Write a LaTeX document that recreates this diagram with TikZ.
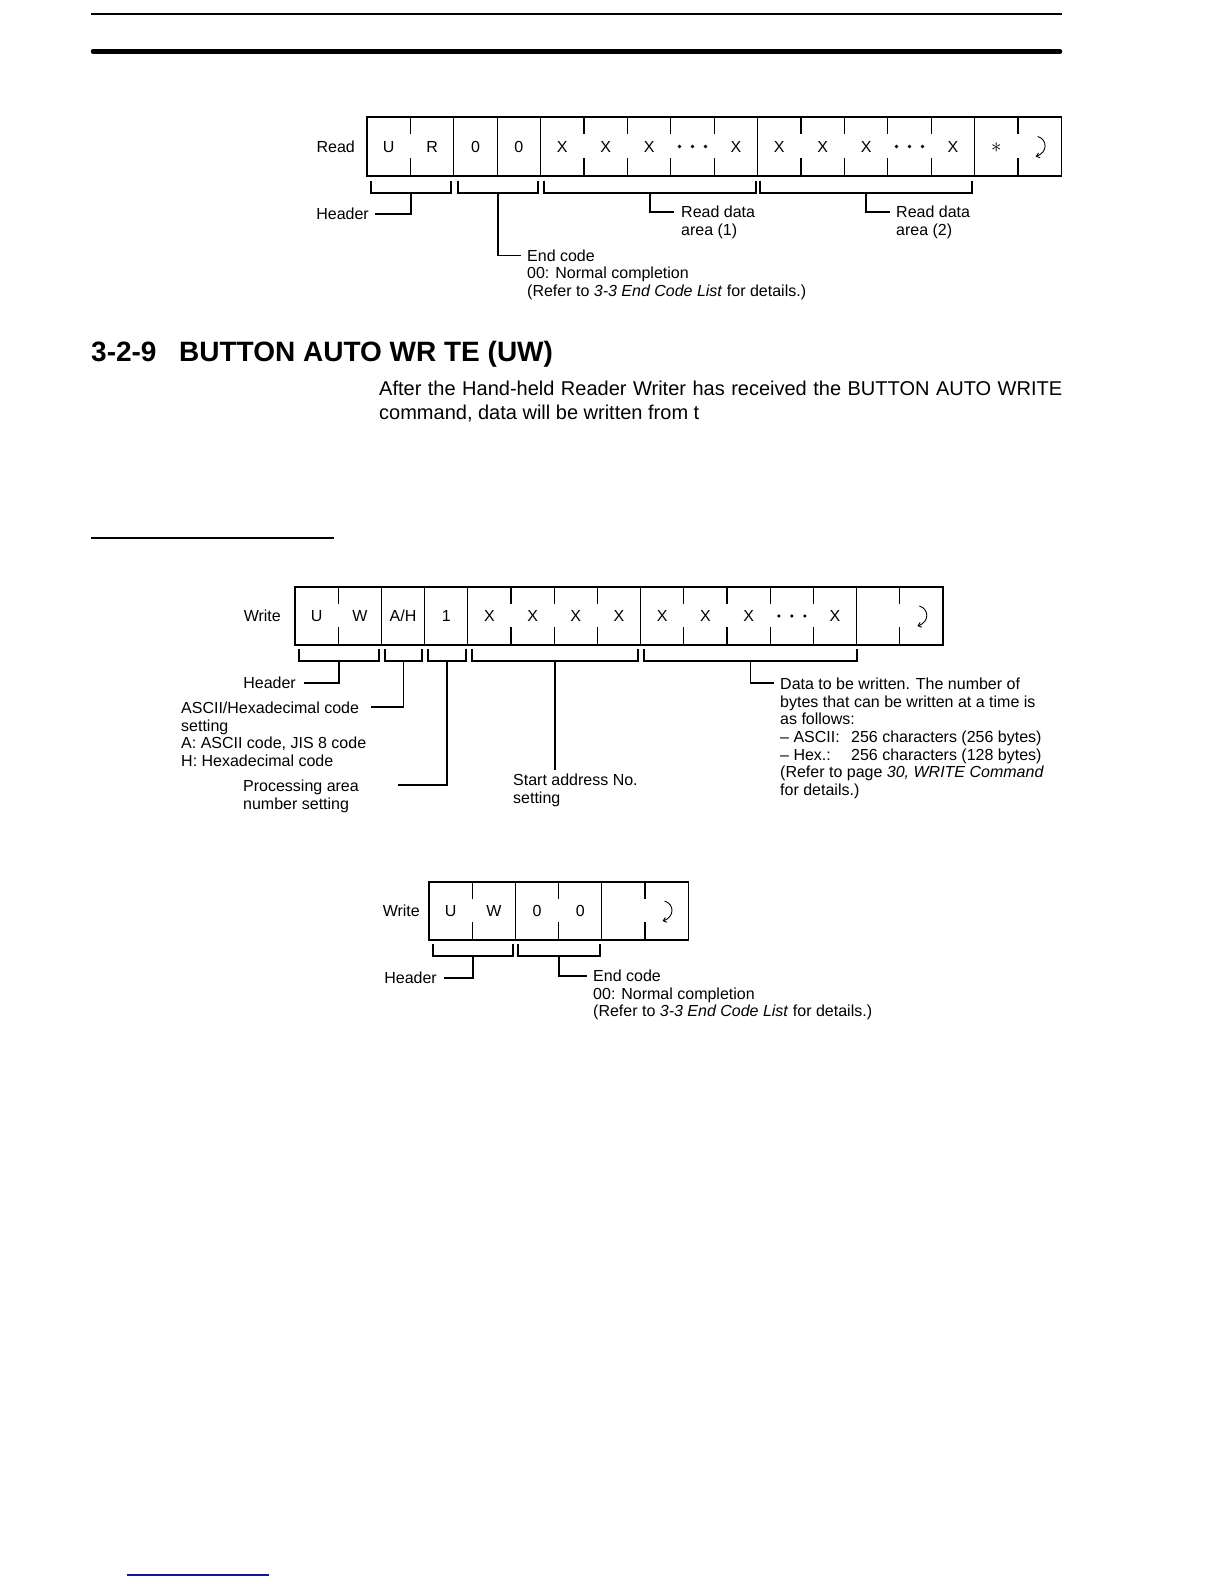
\documentclass[tikz,border=0pt]{standalone}
\usepackage{fontspec}
\setmainfont{Liberation Sans}
\usetikzlibrary{arrows.meta}
\definecolor{footblue}{RGB}{20,20,160}
\begin{document}
\begin{tikzpicture}[x=1pt,y=-1pt,
  lbl/.style={inner sep=0pt, font=\fontsize{16}{17.6}\selectfont, align=left},
  cell/.style={inner sep=0pt, font=\fontsize{16}{17.6}\selectfont, anchor=base},
  ln/.style={line width=1.1pt},
  frm/.style={line width=1.2pt},
  crarr/.pic={\draw[line width=0.9pt,-{Straight Barb[length=3pt,width=5pt]}] (-2,-10) .. controls (8,-7) and (8,6) .. (-4,10);},
  dotsc/.pic={\fill (-13,0) circle (1.8); \fill (0,0) circle (1.8); \fill (13,0) circle (1.8);}
]
\useasboundingbox (0,0) rectangle (1224,1584);
\fill[white] (0,0) rectangle (1224,1584);

% page rules
\draw[line width=2pt] (91,14) -- (1062,14);
\draw[line width=4.5pt, line cap=round] (93,51.5) -- (1060,51.5);

% ================= Read frame =================
\def\rx{367}\def\rw{43.4}\def\rt{117}\def\rb{176}\def\rc{146.5}
\draw[frm] (\rx,\rt) rectangle ({\rx+16*\rw},\rb);
\foreach \i in {2,3,4,9,14} \draw[frm] ({\rx+\i*\rw},\rt) -- ({\rx+\i*\rw},\rb);
\foreach \i in {1,5,6,7,8,10,11,12,13,15} {
  \draw[frm] ({\rx+\i*\rw},\rt) -- ({\rx+\i*\rw},{\rt+17});
  \draw[frm] ({\rx+\i*\rw},{\rb-18}) -- ({\rx+\i*\rw},\rb);
}
\foreach \t [count=\k from 0] in {U,R,0,0,X,X,X,,X,X,X,X,,X} {
  \node[cell] (rc\k) at ({\rx+(\k+0.5)*\rw},{\rc+5.7}) {\t};
}
\pic at ({\rx+7.5*\rw},\rc) {dotsc};
\pic at ({\rx+12.5*\rw},\rc) {dotsc};
\node[inner sep=0pt] (rast) at ({\rx+14.5*\rw},{\rc+1}) {\fontsize{20}{20}\selectfont$\ast$};
\pic at ({\rx+15.5*\rw},\rc) {crarr};
\node[lbl, anchor=base east] (readlbl) at (355,152.7) {Read};

% brackets
\foreach \a/\b in {371/451, 458/538, 544/756, 760/972}
  \draw[ln] (\a,181) -- (\a,193) -- (\b,193) -- (\b,181);
\coordinate (rb1) at (411,193);
\coordinate (rb2) at (498,193);
\coordinate (rb3) at (650,193);
\coordinate (rb4) at (866,193);
\coordinate (rh) at (375,214);
\coordinate (re) at (521,255.5);
\coordinate (rd1) at (674,212);
\coordinate (rd2) at (890,212);
\draw[ln] (rb1) |- (rh);
\draw[ln] (rb2) |- (re);
\draw[ln] (rb3) |- (rd1);
\draw[ln] (rb4) |- (rd2);
\node[lbl, anchor=base east] (rhdr) at (369,219.7) {Header};
\node[lbl, anchor=base west] (rend) at (527,296.4) {End code\\00: Normal completion\\(Refer to \textit{3-3 End Code List} for details.)};
\node[lbl, anchor=base west] (rdat1) at (681,235.3) {Read data\\area (1)};
\node[lbl, anchor=base west] (rdat2) at (896,235.3) {Read data\\area (2)};

% ================= Heading and text =================
\node[inner sep=0pt, anchor=base west, font=\fontsize{28}{32}\selectfont\bfseries] (head) at (91,361) {\makebox[88pt][l]{3-2-9}BUTTON AUTO WR TE (UW)};
\node[inner sep=0pt, anchor=base west, font=\fontsize{20}{24}\selectfont] (para1) at (379,395) {\makebox[683pt][s]{After the Hand-held Reader Writer has received the BUTTON AUTO WRITE}};
\node[inner sep=0pt, anchor=base west, font=\fontsize{20}{24}\selectfont] (para2) at (379,419) {command, data will be written from t};
\draw[line width=1.5pt] (91,538) -- (334,538);

% ================= Write frame 1 =================
\def\wx{295}\def\ww{43.2}\def\wt{587}\def\wb{645}\def\wc{616}
\draw[frm] (\wx,\wt) rectangle ({\wx+15*\ww},\wb);
\foreach \i in {2,3,4,8,13} \draw[frm] ({\wx+\i*\ww},\wt) -- ({\wx+\i*\ww},\wb);
\foreach \i in {1,5,6,7,9,10,11,12,14} {
  \draw[frm] ({\wx+\i*\ww},\wt) -- ({\wx+\i*\ww},{\wt+17});
  \draw[frm] ({\wx+\i*\ww},{\wb-18}) -- ({\wx+\i*\ww},\wb);
}
\foreach \t [count=\k from 0] in {U,W,A/H,1,X,X,X,X,X,X,X,,X} {
  \node[cell] (wc\k) at ({\wx+(\k+0.5)*\ww},{\wc+5.7}) {\t};
}
\pic at ({\wx+11.5*\ww},\wc) {dotsc};
\pic at ({\wx+14.5*\ww},\wc) {crarr};
\node[lbl, anchor=base east] (writelbl) at (281,621.7) {Write};

\foreach \a/\b in {299/379, 385/422, 428/466, 472/638, 644/857}
  \draw[ln] (\a,649) -- (\a,661) -- (\b,661) -- (\b,649);
\coordinate (wb1) at (339,661);
\coordinate (wb2) at (403.5,661);
\coordinate (wb3) at (447,661);
\coordinate (wb4) at (555,661);
\coordinate (wb5) at (750.5,661);
\coordinate (wh) at (304,683);
\coordinate (wa) at (371,707);
\coordinate (wp) at (398,785);
\coordinate (ws) at (555,770);
\coordinate (wd) at (774,683);
\draw[ln] (wb1) |- (wh);
\draw[ln] (wb2) |- (wa);
\draw[ln] (wb3) |- (wp);
\draw[ln] (wb4) -- (ws);
\draw[ln] (wb5) |- (wd);
\node[lbl, anchor=base east] (whdr) at (296,688.7) {Header};
\node[lbl, anchor=base west] (wasc) at (181,766.5) {ASCII/Hexadecimal code\\setting\\A: ASCII code, JIS 8 code\\H: Hexadecimal code};
\node[lbl, anchor=base west] (wproc) at (243,809.3) {Processing area\\number setting};
\node[lbl, anchor=base west] (wstart) at (513,803.3) {Start address No.\\setting};
\node[lbl, anchor=base west] (wdata) at (780,795.3) {Data to be written. The number of\\bytes that can be written at a time is\\as follows:\\\makebox[71pt][l]{– ASCII:}256 characters (256 bytes)\\\makebox[71pt][l]{– Hex.:}256 characters (128 bytes)\\(Refer to page \textit{30, WRITE Command}\\for details.)};

% ================= Write frame 2 =================
\def\vx{429}\def\vw{43.2}\def\vt{882}\def\vb{940}\def\vc{911}
\draw[frm] (\vx,\vt) rectangle ({\vx+6*\vw},\vb);
\foreach \i in {2,4} \draw[frm] ({\vx+\i*\vw},\vt) -- ({\vx+\i*\vw},\vb);
\foreach \i in {1,3,5} {
  \draw[frm] ({\vx+\i*\vw},\vt) -- ({\vx+\i*\vw},{\vt+17});
  \draw[frm] ({\vx+\i*\vw},{\vb-18}) -- ({\vx+\i*\vw},\vb);
}
\foreach \t [count=\k from 0] in {U,W,0,0} {
  \node[cell] (vc\k) at ({\vx+(\k+0.5)*\vw},{\vc+5.7}) {\t};
}
\pic at ({\vx+5.5*\vw},\vc) {crarr};
\node[lbl, anchor=base east] (write2lbl) at (420,916.7) {Write};

\foreach \a/\b in {433/513, 518/600}
  \draw[ln] (\a,944) -- (\a,956) -- (\b,956) -- (\b,944);
\coordinate (vb1) at (473,956);
\coordinate (vb2) at (559,956);
\coordinate (vh) at (444,978);
\coordinate (ve) at (587,976);
\draw[ln] (vb1) |- (vh);
\draw[ln] (vb2) |- (ve);
\node[lbl, anchor=base east] (vhdr) at (437,983.7) {Header};
\node[lbl, anchor=base west] (vend) at (593,1016.9) {End code\\00: Normal completion\\(Refer to \textit{3-3 End Code List} for details.)};

% footer
\draw[footblue, line width=1.5pt] (127,1575) -- (269,1575);
\end{tikzpicture}
\end{document}
